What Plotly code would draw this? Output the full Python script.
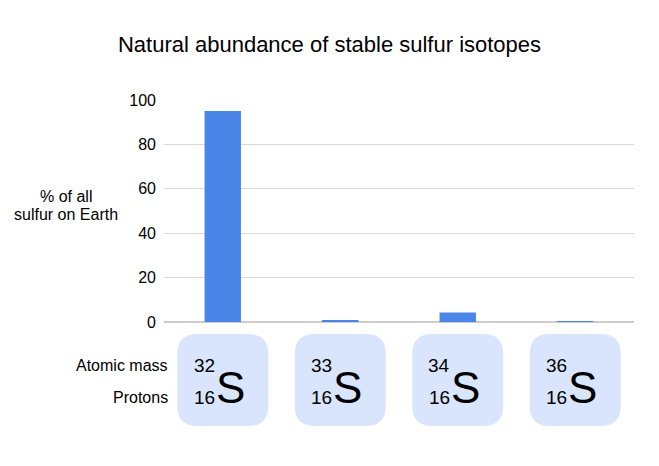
import plotly.graph_objects as go

# isotope data
mass_numbers = [32, 33, 34, 36]
proton_numbers = [16, 16, 16, 16]
symbols = ["S", "S", "S", "S"]
abundance = [94.99, 0.75, 4.25, 0.01]
y_ticks = [0, 20, 40, 60, 80, 100]

x_pos = list(range(len(mass_numbers)))

fig = go.Figure()
fig.add_trace(go.Bar(
    x=x_pos,
    y=abundance,
    marker=dict(color="#4a86e8", line=dict(width=0)),
    width=0.31,
    hoverinfo="y",
))

FONT = "Liberation Sans, Arial, sans-serif"

### rounded boxes under each bar (x in category units, y in paper units)
px_x = 470 / 4  # pixels per category
px_y = 222      # pixels per paper unit
hw = 45.5 / px_x
top, bot = -12 / px_y, -104 / px_y
rx, ry = 20 / px_x, 20 / px_y

shapes = []
annotations = []
for i, (m, p, s) in enumerate(zip(mass_numbers, proton_numbers, symbols)):
    x0, x1 = i - hw, i + hw
    path = (f"M {x0+rx},{top} L {x1-rx},{top} Q {x1},{top} {x1},{top-ry} "
            f"L {x1},{bot+ry} Q {x1},{bot} {x1-rx},{bot} "
            f"L {x0+rx},{bot} Q {x0},{bot} {x0},{bot+ry} "
            f"L {x0},{top-ry} Q {x0},{top} {x0+rx},{top} Z")
    shapes.append(dict(type="path", path=path, xref="x", yref="paper",
                       fillcolor="#d9e5fc", line=dict(width=0), layer="below"))
    annotations.append(dict(x=i, y=-43 / px_y, xref="x", yref="paper", text=str(m),
                            showarrow=False, xanchor="right", yanchor="middle", xshift=-6,
                            font=dict(size=19, color="#000000", family=FONT)))
    annotations.append(dict(x=i, y=-75 / px_y, xref="x", yref="paper", text=str(p),
                            showarrow=False, xanchor="right", yanchor="middle", xshift=-6,
                            font=dict(size=19, color="#000000", family=FONT)))
    annotations.append(dict(x=i, y=-65 / px_y, xref="x", yref="paper", text=s,
                            showarrow=False, xanchor="left", yanchor="middle", xshift=-9,
                            font=dict(size=44, color="#000000", family=FONT)))

### row labels on the left
annotations.append(dict(x=6 / 470, y=-43 / px_y, xref="paper", yref="paper", text="Atomic mass",
                        showarrow=False, xanchor="right", yanchor="middle",
                        font=dict(size=16, color="#000000", family=FONT)))
annotations.append(dict(x=6 / 470, y=-75 / px_y, xref="paper", yref="paper", text="Protons",
                        showarrow=False, xanchor="right", yanchor="middle",
                        font=dict(size=16, color="#000000", family=FONT)))

### horizontal y axis label, two lines
for line, py in [("% of all", 196), ("sulfur on Earth", 214)]:
    annotations.append(dict(x=(66.5 - 165) / 470, y=(322 - py) / px_y, xref="paper", yref="paper",
                            text=line, showarrow=False, xanchor="center", yanchor="middle",
                            font=dict(size=16, color="#000000", family=FONT)))

fig.update_layout(
    width=651, height=458,
    margin=dict(l=156, r=25, t=92, b=144),
    plot_bgcolor="#ffffff", paper_bgcolor="#ffffff",
    title=dict(text="Natural abundance of stable sulfur isotopes", x=321.5 / 651, xanchor="center",
               y=1 - 36 / 458, yanchor="middle",
               font=dict(size=22, color="#000000", family=FONT)),
    font=dict(family=FONT, color="#000000"),
    showlegend=False,
    shapes=shapes,
    annotations=annotations,
    xaxis=dict(range=[-0.5, 3.5], showticklabels=False, showgrid=False,
               zeroline=False, showline=False, fixedrange=True),
    yaxis=dict(range=[0, 100], tickvals=y_ticks, showgrid=True, gridcolor="#d9d9d9",
               zeroline=True, zerolinecolor="#cccccc", zerolinewidth=1.5,
               ticks="", ticklabelstandoff=7,
               tickfont=dict(size=16, color="#000000", family=FONT)),
)

fig.write_html("out.html")
